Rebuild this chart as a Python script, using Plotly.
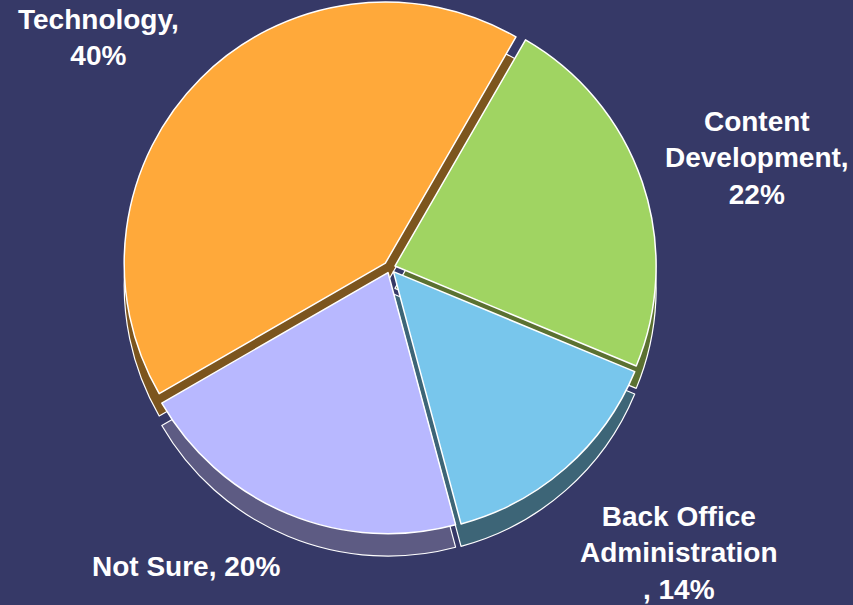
import plotly.graph_objects as go

# Data
categories = ["Content Development", "Back Office Administration", "Not Sure", "Technology"]
values = [22, 14, 20, 40]
label_texts = ["Content<br>Development,<br>22%", "Back Office<br>Administration<br>, 14%",
               "Not Sure, 20%", "Technology,<br>40%"]

# Styles
top_colors = ["#A0D462", "#78C6EC", "#B8B8FF", "#FFA93A"]
side_colors = ["#5B7131", "#3D6577", "#5D5B83", "#7C551E"]
pulls = [0.02, 0.02, 0.02, 0.025]
label_pos = [(757, 158), (679, 553), (186, 566), (98, 37)]  # pixel centres
W, H = 853, 605
BG = "#363967"

fig = go.Figure()

# darker copy slightly lower, to give the 3-D side walls
fig.add_trace(go.Pie(
    labels=categories, values=values, sort=False, direction="clockwise", rotation=30,
    pull=pulls, textinfo="none", hoverinfo="skip", showlegend=False,
    marker=dict(colors=side_colors, line=dict(color="white", width=1.2)),
    domain=dict(x=[0.1415, 0.7729], y=[0.078, 0.963]),
))
# top surface
fig.add_trace(go.Pie(
    labels=categories, values=values, sort=False, direction="clockwise", rotation=30,
    pull=pulls, textinfo="none", hoverinfo="label+percent", showlegend=False,
    marker=dict(colors=top_colors, line=dict(color="white", width=1.5)),
    domain=dict(x=[0.1415, 0.7729], y=[0.115, 1.0]),
))

for txt, (px, py) in zip(label_texts, label_pos):
    fig.add_annotation(
        x=px / W, y=1 - py / H, xref="paper", yref="paper",
        text="<b>" + txt + "</b>", showarrow=False, align="center",
        xanchor="center", yanchor="middle",
        font=dict(family="Liberation Sans, Arial, sans-serif", size=28, color="white"),
    )

fig.update_layout(
    width=W, height=H, margin=dict(l=0, r=0, t=0, b=0),
    paper_bgcolor=BG, plot_bgcolor=BG,
)

fig.write_html("out.html")
